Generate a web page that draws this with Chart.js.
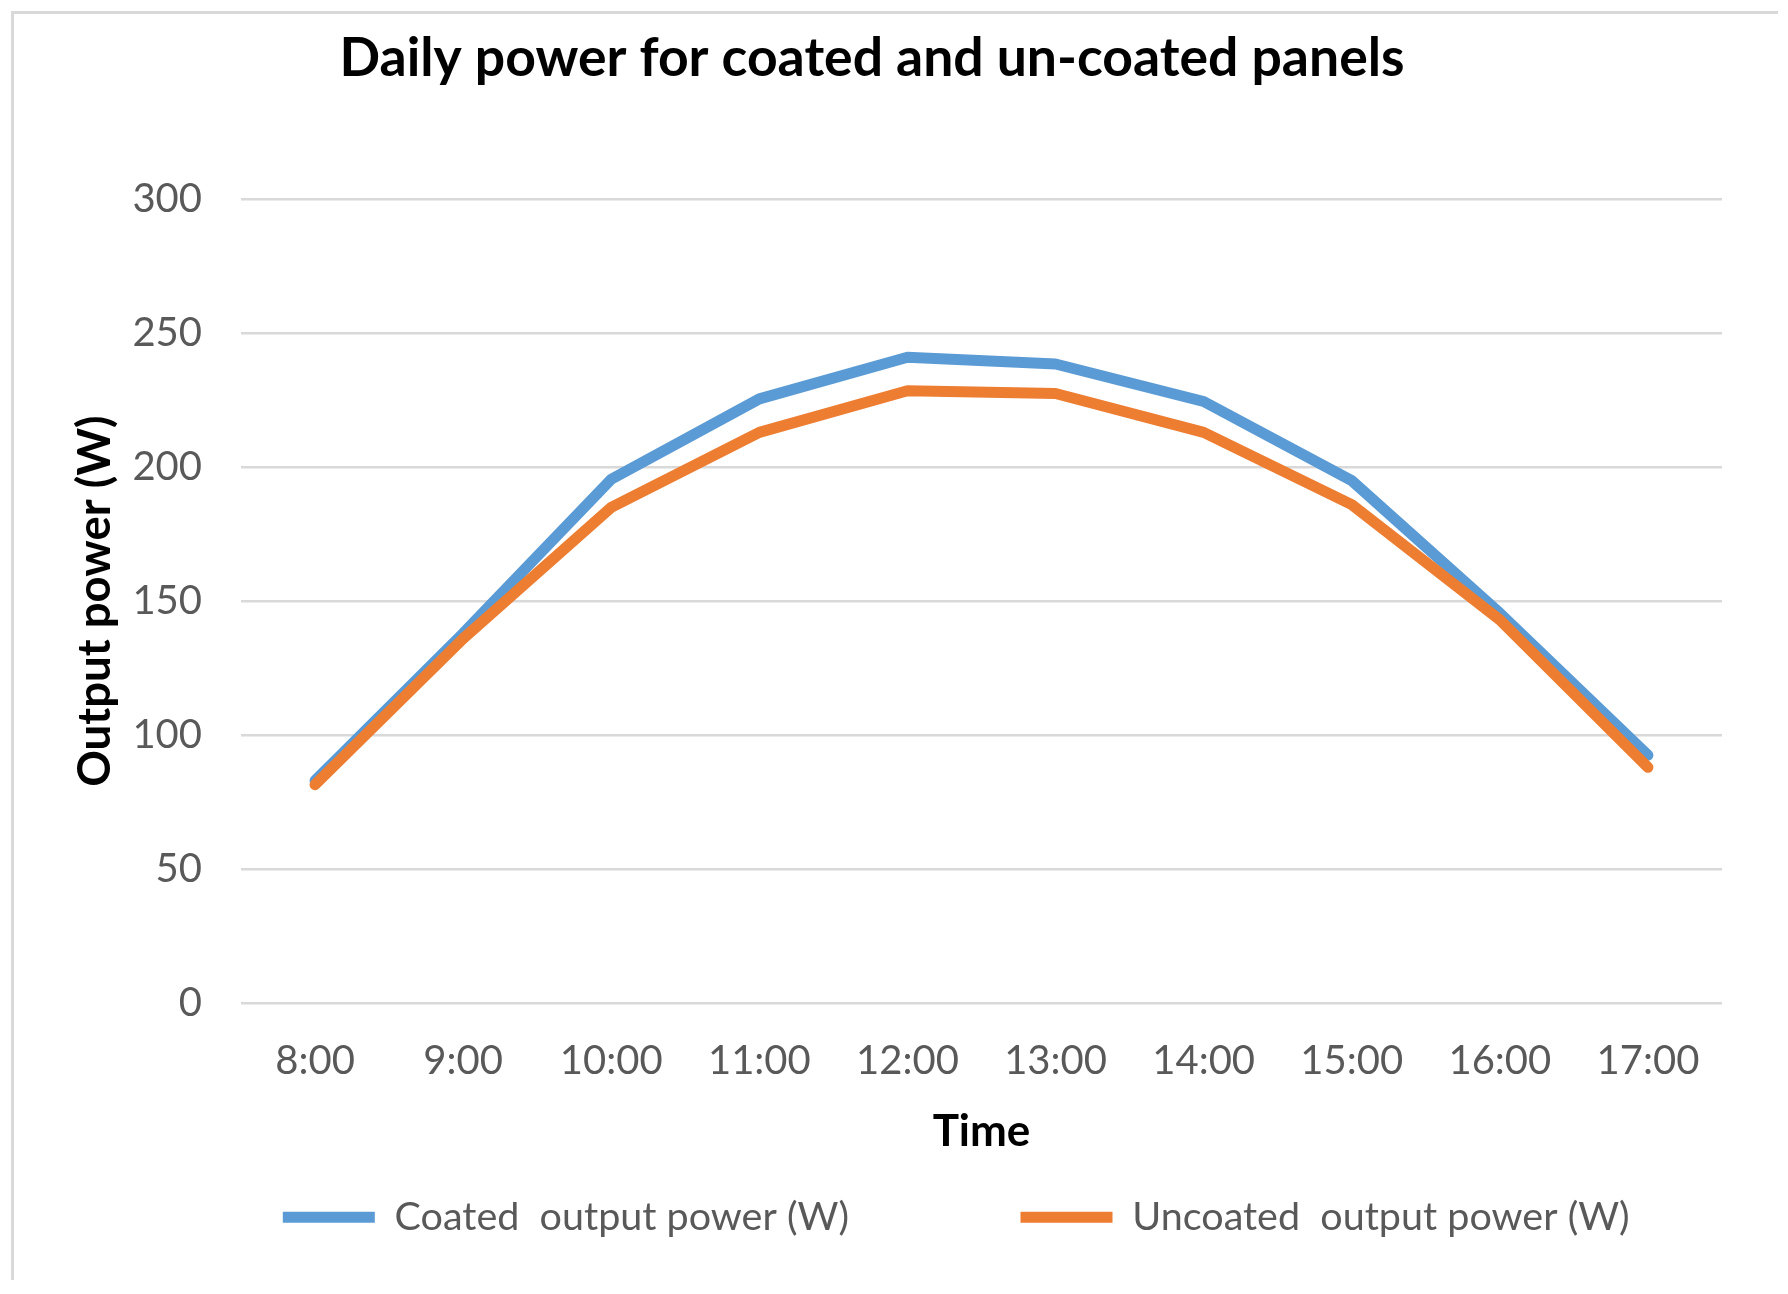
<!DOCTYPE html>
<html>
<head>
<meta charset="utf-8">
<script src="https://cdn.jsdelivr.net/npm/chart.js@4.4.1/dist/chart.umd.min.js"></script>
<style>
  html, body { margin: 0; padding: 0; background: #fff; }
  #frame {
    position: absolute; left: 11px; top: 11px; width: 1764px; height: 1266px;
    border-top: 3px solid #d9d9d9; border-left: 3px solid #d9d9d9;
  }
  #grafica { position: absolute; left: 0; top: 0; }
</style>
</head>
<body>
<div id="frame"></div>
<canvas id="grafica" width="1788" height="1294"></canvas>
<script>
const horas = ["8:00", "9:00", "10:00", "11:00", "12:00", "13:00", "14:00", "15:00", "16:00", "17:00"];
const coated = [83, 138, 195.5, 225.5, 241, 238.5, 224.5, 195, 145.5, 92.5];
const uncoated = [81.5, 136, 185, 213, 228.5, 227.5, 213, 186, 143, 88];
const yMin = 0;
const yMax = 300;
const yStep = 50;

const fuente = "Lato";
Chart.defaults.font.family = fuente;

// espacio extra tras cada texto de la leyenda (la separacion de Excel es mucho mayor)
const relleno = ["\u00a0".repeat(14), "\u00a0".repeat(5)];

function dibujar() {
  const ctx = document.getElementById("grafica").getContext("2d");
  const datos = {
    labels: horas,
    datasets: [
      {
        label: "Coated  output power (W)",
        data: coated,
        borderColor: "#5b9bd5",
        backgroundColor: "#5b9bd5",
        borderWidth: 11,
        borderCapStyle: "round",
        borderJoinStyle: "round",
        pointRadius: 0,
        tension: 0,
        order: 1,
      },
      {
        label: "Uncoated  output power (W)",
        data: uncoated,
        borderColor: "#ed7d31",
        backgroundColor: "#ed7d31",
        borderWidth: 11,
        borderCapStyle: "round",
        borderJoinStyle: "round",
        pointRadius: 0,
        tension: 0,
        order: 0,
      },
    ],
  };

  const config = {
    type: "line",
    data: datos,
    options: {
      responsive: false,
      devicePixelRatio: 1,
      animation: false,
      layout: { padding: { left: 22, right: 66, top: 0, bottom: 47 } },
      plugins: {
        tooltip: { enabled: false },
        title: {
          display: true,
          text: "Daily power for coated and un-coated panels",
          color: "#000",
          font: { size: 53.5, weight: "bold" },
          padding: { top: 27, bottom: 108 },
        },
        legend: {
          position: "bottom",
          fullSize: false,
          labels: {
            color: "#595959",
            font: { size: 39.5 },
            usePointStyle: true,
            pointStyle: "line",
            pointStyleWidth: 92,
            padding: 30,
            sort: (a, b) => a.datasetIndex - b.datasetIndex,
            generateLabels: (chart) => {
              const items = Chart.defaults.plugins.legend.labels.generateLabels(chart);
              items.forEach((it) => { it.text = it.text + relleno[it.datasetIndex]; });
              return items;
            },
          },
        },
      },
      scales: {
        x: {
          offset: true,
          grid: { display: false },
          border: { display: false },
          ticks: { color: "#595959", font: { size: 40 }, padding: 26, maxRotation: 0, autoSkip: false },
          title: {
            display: true,
            text: "Time",
            color: "#000",
            font: { size: 44, weight: "bold" },
            padding: { top: 0, bottom: 9 },
          },
          afterFit: (escala) => { escala.height = 164.4; },
        },
        y: {
          min: yMin,
          max: yMax,
          grid: { color: "#d9d9d9", lineWidth: 2.5, drawTicks: false },
          border: { display: false },
          ticks: { stepSize: yStep, color: "#595959", font: { size: 40 }, padding: 39 },
          title: {
            display: true,
            text: "Output power (W)",
            color: "#000",
            font: { size: 45.5, weight: "bold" },
            padding: { top: 46, bottom: 0 },
          },
          afterFit: (escala) => { escala.width = 219; },
        },
      },
    },
  };

  new Chart(ctx, config);
}

document.fonts.load("40px " + fuente).then(() => document.fonts.load("bold 53px " + fuente)).then(dibujar, dibujar);
</script>
</body>
</html>
